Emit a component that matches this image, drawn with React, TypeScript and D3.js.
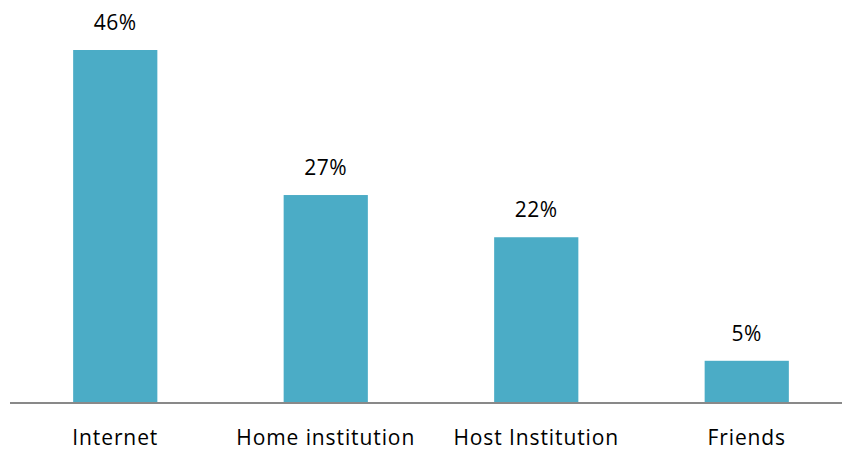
import React from "react";
import * as d3 from "d3";

const categories = ["Internet", "Home institution", "Host Institution", "Friends"];
const values = [46, 27.1, 21.6, 5.5];
const valueLabels = ["46%", "27%", "22%", "5%"];

const W = 842;
const H = 450;
const x0 = 10;
const x1 = 852;
const baseline = 403;

export default function App() {
  const x = d3.scaleBand<string>().domain(categories).range([x0, x1]).paddingInner(0.6).paddingOuter(0.3);
  const y = d3.scaleLinear().domain([0, 46]).range([baseline, 50]);
  const font = "Open Sans, sans-serif";
  return (
    <svg width={W} height={H} style={{ position: "absolute", left: 0, top: 0 }}>
      <rect width={W} height={H} fill="#fff" />
      {categories.map((c, i) => (
        <g key={c}>
          <rect x={x(c)} y={y(values[i])} width={x.bandwidth()} height={baseline - y(values[i])} fill="#4BACC6" />
          <text x={x(c)! + x.bandwidth() / 2} y={y(values[i]) - 20} textAnchor="middle" fontFamily={font} fontSize={21} letterSpacing={0.6} fill="#000">
            {valueLabels[i]}
          </text>
          <text x={x(c)! + x.bandwidth() / 2} y={445} textAnchor="middle" fontFamily={font} fontSize={21} letterSpacing={0.9} fill="#000">
            {c}
          </text>
        </g>
      ))}
      <line x1={x0} x2={W} y1={baseline} y2={baseline} stroke="#898989" strokeWidth={2} />
    </svg>
  );
}
